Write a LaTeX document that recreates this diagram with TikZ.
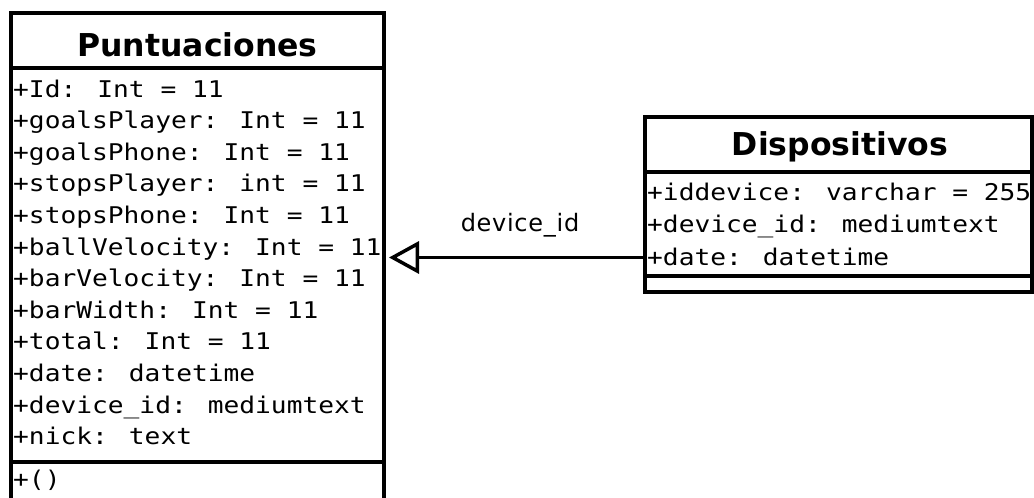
\documentclass[tikz,border=0pt]{standalone}
\usepackage{fontspec}
\usetikzlibrary{arrows.meta}
\newfontfamily\monof[FakeStretch=1.14]{DejaVu Sans Mono}
\newfontfamily\titlef{DejaVu Sans Bold}
\newfontfamily\labelf[LetterSpace=3]{DejaVu Sans}
\begin{document}
\begin{tikzpicture}[x=1pt,y=-1pt,
  classbox/.style={draw, line width=4pt, inner sep=0pt, outer sep=0pt, anchor=north west},
  sepline/.style={line width=4pt},
  rowtext/.style={anchor=base west, inner sep=0pt, font=\monof\fontsize{23}{26}\selectfont},
  titletext/.style={anchor=base, inner sep=0pt, font=\titlef\fontsize{31.5}{36}\selectfont},
  assoc/.style={line width=3.5pt, -{Triangle[open, length=30pt, width=32pt]}, shorten >=5pt},
  assoclabel/.style={anchor=base, inner sep=0pt, font=\labelf\fontsize{24}{28}\selectfont}]
\clip (0,0) rectangle (1034,498);
\fill[white] (0,0) rectangle (1034,498);
% Puntuaciones
\node[classbox, minimum width=373pt, minimum height=500pt] (P) at (11,13) {};
\coordinate (p1) at (0,68);
\coordinate (p2) at (0,462);
\draw[sepline] (P.west |- p1) -- (P.east |- p1);
\draw[sepline] (P.west |- p2) -- (P.east |- p2);
\node[titletext] (Ptitle) at (197.5,56) {Puntuaciones};
\node[rowtext] (r1) at (13,97) {+Id: Int = 11};
\node[rowtext] (r2) at (13,128.6) {+goalsPlayer: Int = 11};
\node[rowtext] (r3) at (13,160.2) {+goalsPhone: Int = 11};
\node[rowtext] (r4) at (13,191.8) {+stopsPlayer: int = 11};
\node[rowtext] (r5) at (13,223.4) {+stopsPhone: Int = 11};
\node[rowtext] (r6) at (13,255) {+ballVelocity: Int = 11};
\node[rowtext] (r7) at (13,286.6) {+barVelocity: Int = 11};
\node[rowtext] (r8) at (13,318.2) {+barWidth: Int = 11};
\node[rowtext] (r9) at (13,349.8) {+total: Int = 11};
\node[rowtext] (r10) at (13,381.4) {+date: datetime};
\node[rowtext] (r11) at (13,413) {+device\_id: mediumtext};
\node[rowtext] (r12) at (13,444.6) {+nick: text};
\node[rowtext] (m1) at (13,487) {+()};
% Dispositivos
\node[classbox, minimum width=387pt, minimum height=175pt] (D) at (645,117) {};
\coordinate (d1) at (0,172);
\coordinate (d2) at (0,276);
\draw[sepline] (D.west |- d1) -- (D.east |- d1);
\draw[sepline] (D.west |- d2) -- (D.east |- d2);
\node[titletext] (Dtitle) at (840,155) {Dispositivos};
\node[rowtext] (s1) at (647,200) {+iddevice: varchar = 255};
\node[rowtext] (s2) at (647,232.5) {+device\_id: mediumtext};
\node[rowtext] (s3) at (647,265) {+date: datetime};
% association
\coordinate (ay) at (0,257.5);
\draw[assoc] (D.west |- ay) -- (P.east |- ay);
\node[assoclabel] (lbl) at (520,231) {device\_id};
\end{tikzpicture}
\end{document}
